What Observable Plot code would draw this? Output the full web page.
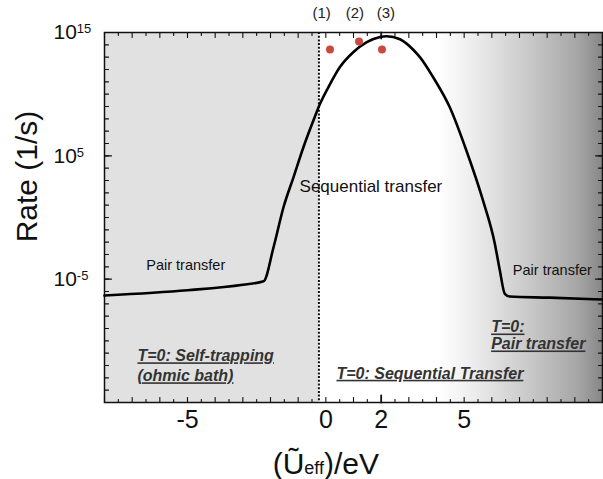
<!DOCTYPE html>
<html>
<head>
<meta charset="utf-8">
<script src="https://cdn.jsdelivr.net/npm/d3@7"></script>
<script src="https://cdn.jsdelivr.net/npm/@observablehq/plot@0.6"></script>
<style>
  html, body { margin: 0; padding: 0; background: #fff; }
  #chart svg { display: block; }
  g[aria-description="regime"] text { text-decoration: underline; }
</style>
</head>
<body>
<div id="chart"></div>
<script>
// Effective interaction energy (eV) along the rate curve
const energy = [-8, -5, -3, -2.25, -1.89, -1.53, -1.17, -0.81, -0.45, -0.21, 0.1, 0.51, 0.99, 1.48, 1.96, 2.2, 2.68, 3.16, 3.4, 3.88, 4.48, 5.08, 5.68, 6.11, 6.29, 6.47, 6.65, 8.09, 10];
// log10 of the transfer rate (1/s) at each energy
const rateExp = [-6.33, -5.9, -5.45, -5.17, -2.41, 0.83, 3.26, 5.7, 7.86, 9.22, 10.6, 12.2, 13.4, 14.22, 14.64, 14.7, 14.45, 13.6, 13.0, 11.37, 8.94, 5.43, 1.38, -2.14, -4.3, -6.19, -6.41, -6.5, -6.65];

// Computed rates for the three marked systems
const pointEnergy = [0.15, 1.2, 2.03];
const pointExp = [13.62, 14.27, 13.62];
const pointNames = ["(1)", "(2)", "(3)"];
const pointNameEnergy = [-0.15, 1.05, 2.17];

// Axis ticks
const xTickValues = [-5, 0, 2, 5];
const yTickExps = [15, 5, -5];

// Regime boundaries (eV)
const selfTrapEdge = -0.25;
const shadeStart = 4.1;

const curve = energy.map((e, i) => ({e, rate: 10 ** rateExp[i]}));
const points = pointEnergy.map((e, i) => ({e, rate: 10 ** pointExp[i]}));
const labels = pointNames.map((name, i) => ({name, e: pointNameEnergy[i]}));

const xDomain = [-8, 10];
const yDomain = [1e-15, 1e15];

// Inward-pointing tick shape for the frame ticks
const tickShape = {draw(ctx, l) { ctx.moveTo(0, 0); ctx.lineTo(0, -l); }};
const halfSteps = d3.range(xDomain[0], xDomain[1] + 0.001, 0.5);
const xWhole = halfSteps.filter(v => Number.isInteger(v) && v !== 2);
const xHalf = halfSteps.filter(v => !Number.isInteger(v));
const decades = d3.range(-15, 16).map(k => 10 ** k);
const yBig = [-15, -5, 5, 15].map(k => 10 ** k);

function frameTicks(values, channel, frameAnchor, rotate, length, strokeWidth = 1.1) {
  return Plot.vector(values, {
    [channel]: d => d, frameAnchor, rotate, length, anchor: "start",
    shape: tickShape, stroke: "#111", strokeWidth
  });
}

const shadeDefs = () => {
  const defs = d3.create("svg:defs");
  const grad = defs.append("linearGradient").attr("id", "rightShade")
    .attr("x1", 0).attr("x2", 1).attr("y1", 0).attr("y2", 0);
  [[0, "#ffffff"], [0.22, "#ececec"], [0.58, "#c6c6c6"], [0.85, "#a6a6a6"], [1, "#878787"]]
    .forEach(([o, c]) => grad.append("stop").attr("offset", o).attr("stop-color", c));
  return defs.node();
};

const font = '"Liberation Sans", Arial, sans-serif';
const regimeText = {textAnchor: "start", fontSize: 16, fontWeight: "bold", fontStyle: "italic", fill: "#333", ariaDescription: "regime"};

const chart = Plot.plot({
  width: 603,
  height: 479,
  marginLeft: 104,
  marginRight: 1,
  marginTop: 32,
  marginBottom: 77,
  style: {fontFamily: font, background: "#fff", color: "#111"},
  x: {domain: xDomain, label: null},
  y: {type: "log", domain: yDomain, label: null},
  marks: [
    shadeDefs,
    // Self-trapping regime (left) and pair-transfer shading (right)
    Plot.rect([0], {x1: xDomain[0], x2: selfTrapEdge, y1: yDomain[0], y2: yDomain[1], fill: "#e1e1e1"}),
    Plot.rect([0], {x1: shadeStart, x2: xDomain[1], y1: yDomain[0], y2: yDomain[1], fill: "url(#rightShade)"}),
    Plot.ruleX([selfTrapEdge], {stroke: "#111", strokeWidth: 2, strokeDasharray: "2,1.7"}),

    // Frame ticks on all four sides
    frameTicks(xWhole, "x", "bottom", 0, 5),
    frameTicks(xHalf, "x", "bottom", 0, 3),
    frameTicks([2], "x", "bottom", 0, 7, 1.8),
    frameTicks(xWhole, "x", "top", 180, 5),
    frameTicks(xHalf, "x", "top", 180, 3),
    frameTicks([2], "x", "top", 180, 6, 1.8),
    frameTicks(decades, "y", "left", 90, 4),
    frameTicks(yBig, "y", "left", 90, 7),
    frameTicks(decades, "y", "right", -90, 4),
    frameTicks(yBig, "y", "right", -90, 7),
    Plot.frame({stroke: "#111", strokeWidth: 1.5}),

    // Tick labels
    Plot.axisX(xTickValues, {tickSize: 0, tickPadding: 8, fontSize: 25, tickFormat: d => String(d), label: null, fill: "#111"}),
    Plot.axisY(yTickExps.map(k => 10 ** k), {tickSize: 0, tickPadding: 0, textAnchor: "start", dx: -51, fontSize: 21, tickFormat: d => `10^${Math.round(Math.log10(d))}`, label: null, fill: "#111"}),

    // Rate curve and computed points
    Plot.line(curve, {x: "e", y: "rate", stroke: "#000", strokeWidth: 2.6, curve: "monotone-x"}),
    Plot.dot(points, {x: "e", y: "rate", r: 4, fill: "#c94a3c", stroke: "none"}),
    Plot.text(labels, {x: "e", text: "name", frameAnchor: "top", dy: -25, fontSize: 15, fill: "#222"}),

    // Region annotations
    Plot.text(["Sequential transfer"], {x: -0.95, y: 10 ** 2.51, textAnchor: "start", fontSize: 17, fill: "#111"}),
    Plot.text(["Pair transfer"], {x: -6.49, y: 10 ** -3.9, textAnchor: "start", fontSize: 14.5, fill: "#111"}),
    Plot.text(["Pair transfer"], {x: 6.76, y: 10 ** -4.3, textAnchor: "start", fontSize: 14.5, fill: "#111"}),
    Plot.text(["T=0: Self-trapping\n(ohmic bath)"], {...regimeText, x: -6.81, y: 10 ** -11.95, lineHeight: 1.25}),
    Plot.text(["T=0: Sequential Transfer"], {...regimeText, x: 0.385, y: 10 ** -12.66}),
    Plot.text(["T=0:\nPair transfer"], {...regimeText, x: 5.975, y: 10 ** -9.57, lineHeight: 1.06}),

    // Axis titles
    Plot.text(["(Ũeff)/eV"], {x: 0, frameAnchor: "bottom", dy: 50, lineAnchor: "top", textAnchor: "middle", fontSize: 30, fill: "#111", ariaDescription: "x-title"}),
    Plot.text(["Rate (1/s)"], {frameAnchor: "left", dx: -77, dy: -41, rotate: -90, textAnchor: "middle", lineAnchor: "middle", fontSize: 30, fill: "#111"})
  ]
});

const svg = d3.select(chart);

// Superscript exponents on the y tick labels
svg.selectAll('g[aria-label="y-axis tick label"] text').each(function () {
  const [base, exp] = this.textContent.split("^");
  const t = d3.select(this).text(null);
  t.append("tspan").text(base);
  t.append("tspan").attr("font-size", 13).attr("dy", -6).text(exp);
});
svg.selectAll('g[aria-label="y-axis tick label"]').attr("text-anchor", "start");

// Subscript-sized "eff" in the x title
svg.selectAll('g[aria-description="x-title"] text').each(function () {
  const t = d3.select(this).text(null);
  t.append("tspan").text("(Ũ");
  t.append("tspan").attr("font-size", 18).text("eff");
  t.append("tspan").text(")/eV");
});

document.getElementById("chart").appendChild(chart);
</script>
</body>
</html>
